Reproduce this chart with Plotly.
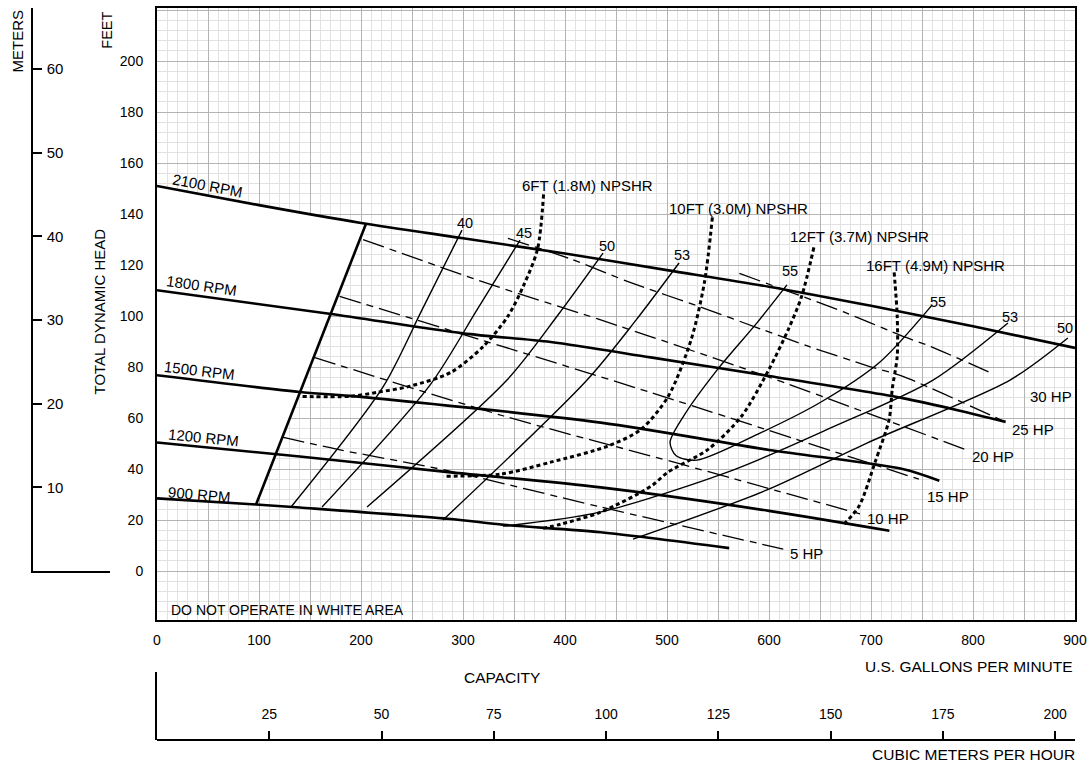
import numpy as np
import plotly.graph_objects as go

FONT = "Arial, Liberation Sans, sans-serif"
W, H = 1088, 764
FT_PER_M = 3.28084
GPM_PER_M3H = 4.402868

# head-capacity curves, US GPM vs feet
rpm2100_gpm = [0, 100, 200, 300, 400, 500, 600, 700, 800, 900]
rpm2100_ft = [151, 143.5, 136.5, 130.5, 124.5, 118, 111.5, 104, 96, 87.5]
rpm1800_gpm = [0, 169, 300, 386, 484, 600, 731, 788, 832]
rpm1800_ft = [110.1, 100.9, 93.2, 89.8, 83.8, 76.5, 67.8, 62.8, 58.5]
rpm1500_gpm = [0, 140, 189, 435, 600, 731, 767]
rpm1500_ft = [76.8, 70.2, 68.7, 58.2, 47.5, 40.0, 35.4]
rpm1200_gpm = [0, 140, 288, 435, 600, 718]
rpm1200_ft = [50.4, 44.9, 38.7, 32.8, 23.6, 15.8]
rpm900_gpm = [0, 97, 140, 288, 340, 435, 561]
rpm900_ft = [28.5, 26.1, 24.9, 20.4, 18.1, 15.2, 9.0]

# minimum flow line
minflow_gpm = [97, 205]
minflow_ft = [26, 136.3]

# efficiency curves (%)
eff40_gpm = [131.4, 221.6, 259.8, 299]
eff40_ft = [25.1, 72.2, 102.4, 133.7]
eff45_gpm = [161.8, 267.6, 313.7, 355.9]
eff45_ft = [25.1, 72.9, 102.4, 129.8]
eff50_gpm = [205.9, 343.1, 393.1, 437.3]
eff50_ft = [25.1, 74.9, 100.4, 124.7]
eff53_gpm = [280.4, 421.6, 469.6, 511.8]
eff53_ft = [20.0, 74.9, 98.4, 120.8]
eff55_gpm = [617.6, 588.2, 549, 515.7, 503, 509, 529.4, 591.2, 651, 708.8, 759.8]
eff55_ft = [112.2, 97.3, 78.8, 60.4, 50.5, 45.2, 43.5, 54.1, 66.3, 82, 104.3]
eff53r_gpm = [339.2, 434.3, 564.7, 662.7, 760.8, 834.3]
eff53r_ft = [17.6, 23.1, 39.6, 56.5, 74.9, 97.3]
eff50r_gpm = [466.7, 598, 696, 836.3, 893]
eff50r_ft = [12.5, 31.8, 50.2, 74.9, 91.4]

# horsepower lines
hp5_gpm = [123, 176, 287, 435, 614]
hp5_ft = [52.5, 47.8, 39.2, 25.1, 8.6]
hp10_gpm = [154, 340, 514, 690]
hp10_ft = [83.8, 60.8, 41.9, 22.3]
hp15_gpm = [179, 484, 747]
hp15_ft = [107.7, 70, 36]
hp20_gpm = [202, 327, 435, 600, 797]
hp20_ft = [130, 112.4, 98.5, 76, 47]
hp25_gpm = [344, 406.7, 463.8, 533.7, 592.8, 639, 698.1, 730.6, 832]
hp25_ft = [130.5, 122.2, 113.2, 103.4, 94.8, 88.1, 80.3, 76.4, 58.4]
hp30_gpm = [571, 674.5, 733.6, 758.2, 816.3]
hp30_ft = [116.7, 101.4, 91.7, 88.1, 77.9]

# NPSH required
npsh6_gpm = [379, 373, 359, 344, 320, 288, 248, 216, 189, 140]
npsh6_ft = [147.7, 126.1, 111.6, 99.9, 88.1, 77.9, 72.5, 70.1, 68.5, 68.5]
npsh10_gpm = [544.5, 536.7, 523.8, 501.2, 474.6, 442, 386, 336.8, 280.6]
npsh10_ft = [138.7, 113.2, 90.9, 68.5, 55.6, 49, 42.7, 38, 37.2]
npsh12_gpm = [644, 632, 619, 600, 573, 540.6, 501, 484.5, 435, 396, 376]
npsh12_ft = [126.9, 107.7, 94.8, 79.1, 60.7, 47.8, 38.8, 33.3, 23.1, 18.4, 16.5]
npsh16_gpm = [722.7, 725.7, 725.7, 720.8, 717.8, 704, 688.3, 671.6]
npsh16_ft = [117.1, 99.9, 84.2, 71.3, 59.5, 42.7, 25.5, 17.6]


def px(x, y):
    return x / W, 1 - y / H


fig = go.Figure()

# white "do not operate" area
top_g = np.linspace(0, minflow_gpm[1], 30)
top_h = np.interp(top_g, rpm2100_gpm, rpm2100_ft)
bot_g = np.linspace(minflow_gpm[0], 0, 20)
bot_h = np.interp(bot_g, rpm900_gpm, rpm900_ft)
fig.add_trace(go.Scatter(
    x=list(top_g) + list(bot_g) + [0], y=list(top_h) + list(bot_h) + [top_h[0]],
    fill="toself", fillcolor="white", mode="lines", line=dict(width=0),
    hoverinfo="skip"))


def curve(x, y, width, dash="solid", shape="spline"):
    fig.add_trace(go.Scatter(x=x, y=y, mode="lines",
                             line=dict(color="black", width=width, dash=dash,
                                       shape=shape, smoothing=0.8),
                             hoverinfo="skip"))


for g, h in [(eff40_gpm, eff40_ft), (eff45_gpm, eff45_ft), (eff50_gpm, eff50_ft),
             (eff53_gpm, eff53_ft), (eff55_gpm, eff55_ft), (eff53r_gpm, eff53r_ft),
             (eff50r_gpm, eff50r_ft)]:
    curve(g, h, 1.4)

hp_dash = "22px,6px,7px,6px"
for g, h in [(hp5_gpm, hp5_ft), (hp10_gpm, hp10_ft), (hp15_gpm, hp15_ft),
             (hp20_gpm, hp20_ft), (hp25_gpm, hp25_ft), (hp30_gpm, hp30_ft)]:
    curve(g, h, 1.3, hp_dash)

for g, h in [(npsh6_gpm, npsh6_ft), (npsh10_gpm, npsh10_ft),
             (npsh12_gpm, npsh12_ft), (npsh16_gpm, npsh16_ft)]:
    curve(g, h, 3, "4px,3px")

for g, h in [(rpm2100_gpm, rpm2100_ft), (rpm1800_gpm, rpm1800_ft),
             (rpm1500_gpm, rpm1500_ft), (rpm1200_gpm, rpm1200_ft),
             (rpm900_gpm, rpm900_ft)]:
    curve(g, h, 2.6)
curve(minflow_gpm, minflow_ft, 2.6, shape="linear")

# helper traces so the extra scales get drawn
fig.add_trace(go.Scatter(x=[], y=[], xaxis="x3", yaxis="y2"))
fig.add_trace(go.Scatter(x=[], y=[], xaxis="x2", yaxis="y3"))

x_major = list(range(0, 901, 50))
y_major = list(range(-20, 221, 20))
fig.update_layout(
    width=W, height=H, margin=dict(l=0, r=0, t=0, b=0, autoexpand=False),
    plot_bgcolor="white", paper_bgcolor="white", showlegend=False,
    font=dict(family=FONT, size=14, color="black"),
    xaxis=dict(domain=[157 / W, 1075 / W], range=[0, 900], automargin=False,
               tickmode="array", tickvals=x_major,
               ticktext=[str(v) if v % 100 == 0 else "" for v in x_major],
               showgrid=True, gridcolor="#b4b4b4", gridwidth=1,
               minor=dict(dtick=10, showgrid=True, gridcolor="#e2e2e2", gridwidth=1),
               showline=True, mirror=True, linecolor="black", linewidth=2,
               ticks="", zeroline=False, ticklabelstandoff=6,
               tickfont=dict(size=14)),
    yaxis=dict(domain=[1 - 620 / H, 1 - 8 / H], range=[-19.2, 220.8], automargin=False,
               tickmode="array", tickvals=y_major,
               ticktext=[str(v) if 0 <= v <= 200 else "" for v in y_major],
               showgrid=True, gridcolor="#b4b4b4", gridwidth=1,
               minor=dict(dtick=4, tick0=0, showgrid=True, gridcolor="#e2e2e2", gridwidth=1),
               showline=True, mirror=True, linecolor="black", linewidth=2,
               ticks="", zeroline=False, ticklabelstandoff=9,
               tickfont=dict(size=14)),
    yaxis2=dict(domain=[1 - 571 / H, 1 - 8 / H], range=[0, 220.8 / FT_PER_M],
                anchor="free", position=31.7 / W, side="right", automargin=False,
                showline=True, linecolor="black", linewidth=2,
                ticks="outside", ticklen=9, tickwidth=2, tickcolor="black",
                tickvals=[10, 20, 30, 40, 50, 60], showgrid=False, zeroline=False,
                tickfont=dict(size=15), ticklabelstandoff=2),
    xaxis3=dict(domain=[31 / W, 110 / W], anchor="y2", range=[0, 1], automargin=False,
                showline=True, linecolor="black", linewidth=2,
                showticklabels=False, ticks="", showgrid=False, zeroline=False),
    xaxis2=dict(domain=[157 / W, 1075 / W], range=[0, 900 / GPM_PER_M3H],
                anchor="free", position=1 - 740 / H, side="top", automargin=False,
                showline=True, linecolor="black", linewidth=2,
                ticks="outside", ticklen=8, tickwidth=2, tickcolor="black",
                tickvals=[25, 50, 75, 100, 125, 150, 175, 200],
                showgrid=False, zeroline=False, tickfont=dict(size=14),
                ticklabelstandoff=6),
    yaxis3=dict(domain=[1 - 740 / H, 1 - 672 / H], anchor="x2", range=[0, 1],
                automargin=False,
                showline=True, linecolor="black", linewidth=2,
                showticklabels=False, ticks="", showgrid=False, zeroline=False),
)

ann = []


def label(x, y, text, size=14, angle=0, xanchor="center"):
    ann.append(dict(x=x, y=y, xref="x", yref="y", text=text, showarrow=False,
                    textangle=angle, xanchor=xanchor, yanchor="middle",
                    font=dict(size=size)))


def plabel(x, y, text, size=15, angle=0, xanchor="center"):
    px_, py_ = px(x, y)
    ann.append(dict(x=px_, y=py_, xref="paper", yref="paper", text=text,
                    showarrow=False, textangle=angle, xanchor=xanchor,
                    yanchor="middle", font=dict(size=size)))


# speed labels
label(49.5, 151, "2100 RPM", 15, 11)
label(43.6, 111.8, "1800 RPM", 15, 8)
label(42, 78.8, "1500 RPM", 15, 6.7)
label(46, 52.2, "1200 RPM", 15, 5.6)
label(42, 30.2, "900 RPM", 15, 5)

# efficiency labels
for x, y, t in [(302, 136.6, "40"), (359.8, 132.7, "45"), (440.9, 127.6, "50"),
                (514.7, 123.9, "53"), (620.6, 117.8, "55"), (765.5, 105.6, "55"),
                (836, 99.7, "53"), (890, 95.2, "50")]:
    label(x, y, t, 14.5)

# NPSHR labels
label(356, 151, "6FT (1.8M) NPSHR", 15, xanchor="left")
label(500, 142, "10FT (3.0M) NPSHR", 15, xanchor="left")
label(619, 131.2, "12FT (3.7M) NPSHR", 15, xanchor="left")
label(693, 120, "16FT (4.9M) NPSHR", 15, xanchor="left")

# horsepower labels
label(619, 6.9, "5 HP", 15, xanchor="left")
label(694, 20.8, "10 HP", 15, xanchor="left")
label(753, 29.1, "15 HP", 15, xanchor="left")
label(797, 45.1, "20 HP", 15, xanchor="left")
label(836, 55.7, "25 HP", 15, xanchor="left")
label(854, 68.6, "30 HP", 15, xanchor="left")

# axis titles
plabel(17.5, 41, "METERS", 15, -90)
plabel(106.7, 30, "FEET", 14.5, -90)
plabel(98.5, 312, "TOTAL DYNAMIC HEAD", 15, -90)
plabel(502, 677, "CAPACITY", 15.5)
plabel(1075, 666, "U.S. GALLONS PER MINUTE", 15.5, xanchor="right")
plabel(1077, 754, "CUBIC METERS PER HOUR", 15.5, xanchor="right")
plabel(169, 610, "DO NOT OPERATE IN WHITE AREA", 14, xanchor="left")

fig.update_layout(annotations=ann)
fig.write_html("out.html", config={"displayModeBar": False},
               post_script="document.body.style.margin='0px';")
